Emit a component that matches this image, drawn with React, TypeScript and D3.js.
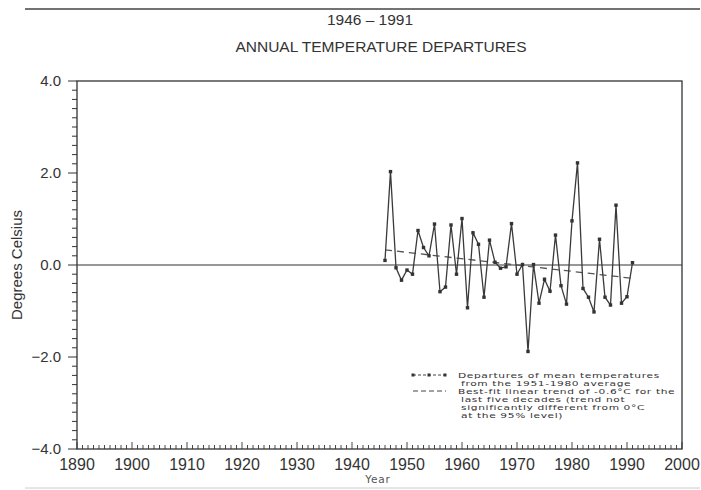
import React, { useEffect, useRef } from 'react';
import * as d3 from 'd3';

// annual departures (deg C) from the 1951-1980 mean
const years = [
  1946, 1947, 1948, 1949, 1950, 1951, 1952, 1953, 1954, 1955,
  1956, 1957, 1958, 1959, 1960, 1961, 1962, 1963, 1964, 1965,
  1966, 1967, 1968, 1969, 1970, 1971, 1972, 1973, 1974, 1975,
  1976, 1977, 1978, 1979, 1980, 1981, 1982, 1983, 1984, 1985,
  1986, 1987, 1988, 1989, 1990, 1991,
];
const departures = [
  0.10, 2.03, -0.06, -0.33, -0.11, -0.20, 0.75, 0.38, 0.20, 0.89,
  -0.58, -0.48, 0.87, -0.20, 1.01, -0.93, 0.70, 0.45, -0.70, 0.54,
  0.06, -0.07, -0.04, 0.90, -0.20, 0.01, -1.88, 0.01, -0.83, -0.31,
  -0.57, 0.65, -0.45, -0.85, 0.96, 2.22, -0.51, -0.70, -1.02, 0.56,
  -0.70, -0.87, 1.30, -0.83, -0.69, 0.05,
];
const trendYears = [1946, 1991];
const trendValues = [0.33, -0.29];

const yTickLabels = ['4.0', '2.0', '0.0', '\u22122.0', '\u22124.0'];
const yTickValues = [4, 2, 0, -2, -4];
const xTickValues = [1890, 1900, 1910, 1920, 1930, 1940, 1950, 1960, 1970, 1980, 1990, 2000];

const legendLines = [
  'Departures of mean temperatures',
  'from the 1951-1980 average',
  'Best-fit linear trend of -0.6\u00B0C for the',
  'last five decades (trend not',
  'significantly different from 0\u00B0C',
  'at the 95% level)',
];

const W = 701;
const H = 490;

const App = () => {
  const svgRef = useRef<SVGSVGElement>(null);

  useEffect(() => {
    const svg = d3.select(svgRef.current);
    svg.selectAll('*').remove();

    const left = 77, right = 682, top = 81, bottom = 449;
    const ink = '#333';
    const helv = 'Liberation Sans, Arial, sans-serif';
    const rounded = 'DejaVu Sans, sans-serif';

    const x = d3.scaleLinear().domain([1890, 2000]).range([left, right]);
    const y = d3.scaleLinear().domain([-4, 4]).range([bottom, top]);

    svg.append('rect').attr('width', W).attr('height', H).attr('fill', '#fff');

    // header rule and titles
    svg.append('line')
      .attr('x1', 25).attr('x2', 700).attr('y1', 9).attr('y2', 9)
      .attr('stroke', '#444').attr('stroke-width', 1.6);
    svg.append('text')
      .attr('x', 370).attr('y', 25)
      .attr('text-anchor', 'middle')
      .style('font-family', helv).style('font-size', '15.5px').attr('fill', ink)
      .text('1946 \u2013 1991');
    svg.append('text')
      .attr('x', 381).attr('y', 52)
      .attr('text-anchor', 'middle')
      .style('font-family', helv).style('font-size', '15.5px').attr('fill', ink)
      .text('ANNUAL TEMPERATURE DEPARTURES');

    // frame
    svg.append('rect')
      .attr('x', left).attr('y', top)
      .attr('width', right - left).attr('height', bottom - top)
      .attr('fill', 'none').attr('stroke', ink).attr('stroke-width', 1.3);

    // y ticks (every 0.2, outward)
    const yMinor = d3.range(-40, 41, 2).map(v => v / 10);
    svg.append('g').selectAll('line')
      .data(yMinor)
      .enter().append('line')
      .attr('x1', d => (Math.abs(d % 2) < 1e-9 ? left - 9 : left - 5))
      .attr('x2', left)
      .attr('y1', d => y(d)).attr('y2', d => y(d))
      .attr('stroke', ink).attr('stroke-width', 1);

    svg.append('g').selectAll('text')
      .data(yTickValues)
      .enter().append('text')
      .attr('x', 61).attr('y', d => y(d) + 5)
      .attr('text-anchor', 'end')
      .style('font-family', helv).style('font-size', '15px').attr('fill', ink)
      .text((d, i) => yTickLabels[i]);

    // x ticks (every year, inward)
    const xMinor = d3.range(1890, 2001);
    svg.append('g').selectAll('line')
      .data(xMinor)
      .enter().append('line')
      .attr('x1', d => x(d)).attr('x2', d => x(d))
      .attr('y1', bottom)
      .attr('y2', d => (d % 10 === 0 ? bottom - 7 : bottom - 4))
      .attr('stroke', ink).attr('stroke-width', 0.9);

    svg.append('g').selectAll('text')
      .data(xTickValues)
      .enter().append('text')
      .attr('x', d => x(d)).attr('y', bottom + 21)
      .attr('text-anchor', 'middle')
      .style('font-family', helv).style('font-size', '16px').attr('fill', ink)
      .text(d => d);

    // axis titles
    svg.append('text')
      .attr('transform', `translate(22, ${y(0)}) rotate(-90)`)
      .attr('text-anchor', 'middle')
      .style('font-family', helv).style('font-size', '15px').attr('fill', ink)
      .text('Degrees  Celsius');
    svg.append('text')
      .attr('x', 378).attr('y', 483)
      .attr('text-anchor', 'middle')
      .style('font-family', rounded).style('font-size', '10.5px')
      .style('letter-spacing', '0.8px').attr('fill', '#555')
      .text('Year');

    // zero line
    svg.append('line')
      .attr('x1', left).attr('x2', right)
      .attr('y1', y(0)).attr('y2', y(0))
      .attr('stroke', ink).attr('stroke-width', 1.2);

    // trend
    const trendLine = d3.line<number>()
      .x((d, i) => x(trendYears[i]))
      .y(d => y(d));
    svg.append('path')
      .attr('d', trendLine(trendValues))
      .attr('fill', 'none').attr('stroke', '#555')
      .attr('stroke-width', 1.3).attr('stroke-dasharray', '7,5');

    // departures series
    const line = d3.line<number>()
      .x((d, i) => x(years[i]))
      .y(d => y(d));
    svg.append('path')
      .attr('d', line(departures))
      .attr('fill', 'none').attr('stroke', '#3a3a3a').attr('stroke-width', 1.3);

    svg.append('g').selectAll('rect')
      .data(departures)
      .enter().append('rect')
      .attr('x', (d, i) => x(years[i]) - 1.7)
      .attr('y', d => y(d) - 1.7)
      .attr('width', 3.4).attr('height', 3.4)
      .attr('fill', '#333');

    // legend
    const lg = svg.append('g');
    lg.append('line')
      .attr('x1', 413).attr('x2', 445).attr('y1', 375).attr('y2', 375)
      .attr('stroke', '#444').attr('stroke-width', 1).attr('stroke-dasharray', '3,2');
    [413, 429, 445].forEach(px => {
      lg.append('rect')
        .attr('x', px - 1.5).attr('y', 373.5)
        .attr('width', 3).attr('height', 3).attr('fill', '#333');
    });
    lg.append('line')
      .attr('x1', 413).attr('x2', 446).attr('y1', 391).attr('y2', 391)
      .attr('stroke', '#444').attr('stroke-width', 1).attr('stroke-dasharray', '5,3');

    // wide, low text like the plotter lettering
    const lgText = lg.append('g').attr('transform', 'translate(458, 0) scale(1.4, 1)');
    lgText.selectAll('text')
      .data(legendLines)
      .enter().append('text')
      .attr('x', (d, i) => (i === 0 || i === 2 ? 0 : 2.2))
      .attr('y', (d, i) => 378.5 + i * 7.9)
      .style('font-family', rounded).style('font-size', '7.6px')
      .style('letter-spacing', '0.45px').attr('fill', '#333')
      .text(d => d);

    // faint bottom rule
    svg.append('line')
      .attr('x1', 25).attr('x2', 700).attr('y1', 488).attr('y2', 488)
      .attr('stroke', '#ccc').attr('stroke-width', 1);
  }, []);

  return (
    <div style={{ position: 'absolute', left: 0, top: 0 }}>
      <svg ref={svgRef} width={W} height={H}></svg>
    </div>
  );
};

export default App;
